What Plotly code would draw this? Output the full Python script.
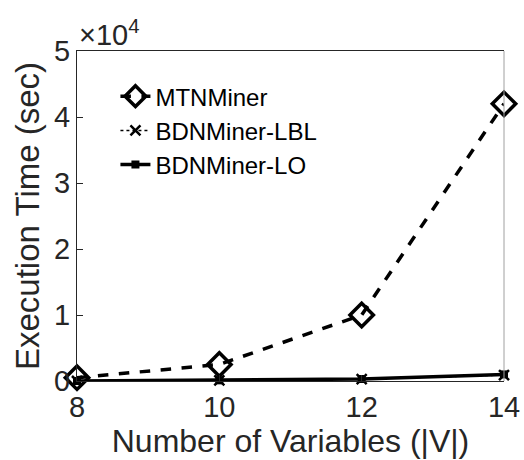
import plotly.graph_objects as go

num_vars = [8, 10, 12, 14]
mtnminer = [500, 2500, 10000, 42000]
bdn_lbl = [0, 100, 300, 900]
bdn_lo = [0, 100, 300, 1000]

y_ticks = [0, 10000, 20000, 30000, 40000, 50000]
y_tick_text = ["0", "1", "2", "3", "4", "5"]
x_ticks = [8, 10, 12, 14]

FONT = "Liberation Sans, Arial, Helvetica, sans-serif"
TXT = "#262626"

fig = go.Figure()
fig.add_trace(go.Scatter(
    x=num_vars, y=mtnminer, name="MTNMiner", mode="lines+markers", cliponaxis=False,
    line=dict(color="black", width=3.5, dash="dash"),
    marker=dict(symbol="diamond-open", size=18, color="black", line=dict(width=3.5)),
))
fig.add_trace(go.Scatter(
    x=num_vars, y=bdn_lbl, name="BDNMiner-LBL", mode="lines+markers", cliponaxis=False,
    line=dict(color="black", width=1.5, dash="dot"),
    marker=dict(symbol="x-thin-open", size=10, color="black", line=dict(width=2.5)),
))
fig.add_trace(go.Scatter(
    x=num_vars, y=bdn_lo, name="BDNMiner-LO", mode="lines+markers", cliponaxis=False,
    line=dict(color="black", width=3.5),
    marker=dict(symbol="square", size=8, color="black"),
))

fig.update_layout(
    width=524, height=460,
    margin=dict(l=77, r=20, t=51, b=79, autoexpand=False),
    paper_bgcolor="white", plot_bgcolor="white",
    font=dict(family=FONT, color=TXT),
    showlegend=True,
    legend=dict(
        x=0.09, y=0.93, xanchor="left", yanchor="top",
        bgcolor="rgba(0,0,0,0)", borderwidth=0,
        font=dict(size=24, color="black", family=FONT),
        itemwidth=30, tracegroupgap=0,
    ),
    xaxis=dict(
        range=[8, 14], tickvals=x_ticks, automargin=False,
        ticks="inside", ticklen=6, tickcolor="#262626",
        showline=True, linecolor="#262626", linewidth=1, mirror=True,
        showgrid=False, zeroline=False,
        tickfont=dict(size=29, color=TXT),
        title=dict(text="Number of Variables (|V|)", font=dict(size=32, color=TXT), standoff=2),
    ),
    yaxis=dict(
        range=[0, 50000], tickvals=y_ticks, ticktext=y_tick_text, automargin=False,
        ticks="inside", ticklen=6, tickcolor="#262626",
        showline=True, linecolor="#262626", linewidth=1,
        showgrid=False, zeroline=False,
        tickfont=dict(size=29, color=TXT),
        title=dict(text="Execution Time (sec)", font=dict(size=33, color=TXT), standoff=4),
    ),
)

# right-hand frame edge
fig.add_shape(type="line", xref="paper", yref="paper", x0=1, x1=1, y0=0, y1=1,
              line=dict(color="#a0a0a0", width=1))

# axis exponent
fig.add_annotation(xref="paper", yref="paper", x=0.0, y=1.0, xanchor="left", yanchor="bottom",
                   text="×10<sup>4</sup>", showarrow=False, yshift=-2,
                   font=dict(size=29, color=TXT, family=FONT))

fig.write_html("out.html")
